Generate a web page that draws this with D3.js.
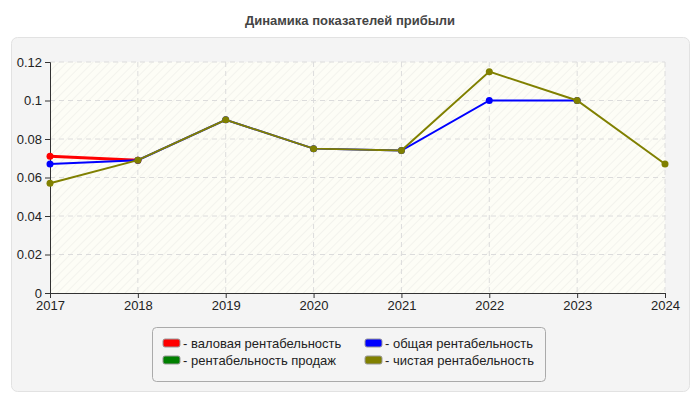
<!DOCTYPE html>
<html><head><meta charset="utf-8">
<script src="https://cdn.jsdelivr.net/npm/d3@7"></script>
<style>body{margin:0;background:#fff;font-family:Arial,"Liberation Sans",sans-serif}</style>
</head><body><svg id="chart" width="700" height="400"></svg>
<script>
// Chart data
const years = [2017, 2018, 2019, 2020, 2021, 2022, 2023, 2024];
const gross = [0.071, 0.069, null, null, null, null, null, null];
const total = [0.067, 0.069, 0.090, 0.075, 0.074, 0.100, 0.100, null];
const sales = [null, null, null, null, null, null, null, null];
const net = [0.057, 0.069, 0.090, 0.075, 0.074, 0.115, 0.100, 0.067];
const yTicks = [0, 0.02, 0.04, 0.06, 0.08, 0.1, 0.12];

const series = [
  { name: '- валовая рентабельность', color: '#ff0000', values: gross, w: 3 },
  { name: '- общая рентабельность', color: '#0000ff', values: total, w: 2 },
  { name: '- рентабельность продаж', color: '#008000', values: sales, w: 2 },
  { name: '- чистая рентабельность', color: '#808000', values: net, w: 2 }
];

const svg = d3.select('#chart');
const margin = { left: 50, right: 35, top: 62, bottom: 107 };
const width = 700 - margin.left - margin.right;
const height = 400 - margin.top - margin.bottom;

// panel background
svg.append('rect').attr('x', 11.5).attr('y', 37.5).attr('width', 678).attr('height', 354)
    .attr('rx', 6).attr('fill', '#f4f4f4').attr('stroke', '#e2e2e2');

svg.append('text').attr('x', 350).attr('y', 25).attr('text-anchor', 'middle')
    .attr('font-size', 13).attr('font-weight', 'bold').attr('fill', '#444')
    .text('Динамика показателей прибыли');

const defs = svg.append('defs');
const pat = defs.append('pattern').attr('id', 'hatch').attr('width', 6).attr('height', 6)
    .attr('patternUnits', 'userSpaceOnUse').attr('patternTransform', 'rotate(45)');
pat.append('rect').attr('width', 6).attr('height', 6).attr('fill', '#fdfdf6');
pat.append('line').attr('x1', 0).attr('y1', 0).attr('x2', 0).attr('y2', 6)
    .attr('stroke', '#f0f0ea').attr('stroke-width', 1.5);

const g = svg.append('g').attr('transform', `translate(${margin.left},${margin.top})`);
g.append('rect').attr('width', width).attr('height', height).attr('fill', 'url(#hatch)');

const x = d3.scalePoint().domain(years).range([0, width]);
const y = d3.scaleLinear().domain([0, 0.12]).range([height, 0]);

// grid
g.append('g').selectAll('line').data(yTicks.slice(1)).join('line')
    .attr('x1', 0).attr('x2', width).attr('y1', d => y(d)).attr('y2', d => y(d))
    .attr('stroke', '#dcdcdc').attr('stroke-dasharray', '5,4');
g.append('g').selectAll('line').data(years.slice(1)).join('line')
    .attr('x1', d => x(d)).attr('x2', d => x(d)).attr('y1', 0).attr('y2', height)
    .attr('stroke', '#dcdcdc').attr('stroke-dasharray', '5,4');

// axes
const yAxis = g.append('g').call(d3.axisLeft(y).tickValues(yTicks).tickSize(5).tickFormat(d => String(d)));
const xAxis = g.append('g').attr('transform', `translate(0,${height})`)
    .call(d3.axisBottom(x).tickSize(5));
[xAxis, yAxis].forEach(a => {
  a.selectAll('text').attr('font-size', 13).attr('fill', '#222').attr('font-family', 'Arial, "Liberation Sans", sans-serif');
  a.selectAll('path,line').attr('stroke', '#333');
});

// lines
const line = d3.line().defined(d => d.v != null).x(d => x(d.year)).y(d => y(d.v));
series.forEach(s => {
  const pts = years.map((yr, i) => ({ year: yr, v: s.values[i] }));
  g.append('path').datum(pts).attr('d', line).attr('fill', 'none')
      .attr('stroke', s.color).attr('stroke-width', s.w);
  g.selectAll(null).data(pts.filter(d => d.v != null)).join('circle')
      .attr('cx', d => x(d.year)).attr('cy', d => y(d.v)).attr('r', 3.5).attr('fill', s.color);
});

// legend
const lg = svg.append('g');
lg.append('rect').attr('x', 152.5).attr('y', 327.5).attr('width', 393).attr('height', 54)
    .attr('rx', 4).attr('fill', '#f4f4f4').attr('stroke', '#aaa');
series.forEach((s, i) => {
  const lx = 163 + (i % 2) * 202, ly = 344 + Math.floor(i / 2) * 17;
  lg.append('rect').attr('x', lx).attr('y', ly - 5).attr('width', 17).attr('height', 8)
      .attr('rx', 2).attr('fill', s.color).attr('stroke', '#999');
  lg.append('text').attr('x', lx + 20).attr('y', ly + 4).attr('font-size', 13)
      .attr('fill', '#222').text(s.name);
});
</script></body></html>
